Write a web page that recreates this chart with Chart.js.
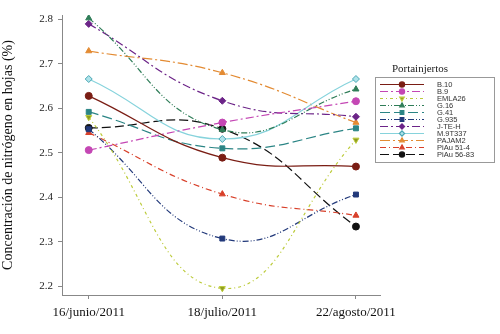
<!DOCTYPE html>
<html>
<head>
<meta charset="utf-8">
<script src="https://cdn.jsdelivr.net/npm/chart.js@4"></script>
<style>
  html, body { margin: 0; padding: 0; background: #fff; }
  #wrap { width: 500px; height: 334px; }
</style>
</head>
<body>
<div id="wrap"><canvas id="nChart" width="500" height="334"></canvas></div>
<script>
// fechas de muestreo
var dateLabels = ["16/junio/2011", "18/julio/2011", "22/agosto/2011"];
var yTicks = [2.2, 2.3, 2.4, 2.5, 2.6, 2.7, 2.8];

// nitrógeno foliar (%) por portainjerto
var rootstocks = ["B.10", "B.9", "EMLA26", "G.16", "G.41", "G.935", "J-TE-H", "M.9T337", "PAJAM2", "PiAu 51-4", "PiAu 56-83"];
var b10 = [2.628, 2.489, 2.469];
var b9 = [2.506, 2.568, 2.616];
var emla26 = [2.580, 2.195, 2.529];
var g16 = [2.803, 2.552, 2.643];
var g41 = [2.592, 2.510, 2.555];
var g935 = [2.553, 2.307, 2.406];
var jteh = [2.790, 2.617, 2.581];
var m9t337 = [2.666, 2.531, 2.666];
var pajam2 = [2.729, 2.680, 2.568];
var piau514 = [2.545, 2.407, 2.359];
var piau5683 = [2.556, 2.554, 2.334];

var seriesValues = [b10, b9, emla26, g16, g41, g935, jteh, m9t337, pajam2, piau514, piau5683];

var lineColors = ["#7a1d14", "#c447b4", "#bccb3a", "#2f7d58", "#2b8585", "#22397a", "#6c2488", "#86d3dc", "#e38b33", "#d8402a", "#111111"];
var markerFill = ["#7a1d14", "#c447b4", "#8f9c22", "#2f7d58", "#2b8585", "#22397a", "#6c2488", "#aee3ea", "#e38b33", "#d8402a", "#111111"];
var markers = ["circle", "circle", "triangle", "triangle", "rect", "rect", "rectRot", "rectRot", "triangle", "triangle", "circle"];
var dashes = [[], [8, 3, 2, 3], [3, 3, 1, 3], [6, 2, 1, 2, 1, 2], [10, 4], [6, 2, 1, 2, 1, 2], [8, 3, 2, 3], [], [10, 3, 2, 3], [6, 3, 1, 3], [9, 4]];

var datasets = [];
for (var i = 0; i < rootstocks.length; i++) {
    var pts = [];
    for (var j = 0; j < dateLabels.length; j++) {
        pts.push({ x: j, y: seriesValues[i][j] });
    }
    datasets.push({
        label: rootstocks[i],
        data: pts,
        borderColor: lineColors[i],
        borderWidth: 1.2,
        borderDash: dashes[i],
        tension: 0.45,
        pointStyle: markers[i],
        pointRotation: (rootstocks[i] == "EMLA26") ? 180 : 0,
        pointRadius: 3.5,
        pointBackgroundColor: markerFill[i],
        pointBorderColor: (rootstocks[i] == "M.9T337") ? "#4aa6b4" : lineColors[i],
        pointBorderWidth: 1
    });
}

// leyenda dibujada a mano (linea + marcador + texto)
var boxLegend = {
    id: "boxLegend",
    afterDraw: function (chart) {
        var ctx = chart.ctx;
        ctx.save();
        ctx.fillStyle = "#222";
        ctx.font = "11px 'Liberation Serif'";
        ctx.textAlign = "center";
        ctx.textBaseline = "middle";
        ctx.fillText("Portainjertos", 420, 69);

        ctx.strokeStyle = "#999";
        ctx.lineWidth = 1;
        ctx.setLineDash([]);
        ctx.strokeRect(375.5, 77.5, 119, 85);

        chart.data.datasets.forEach(function (ds, k) {
            var y = 84.5 + k * 7;
            ctx.strokeStyle = ds.borderColor;
            ctx.lineWidth = 1.2;
            ctx.setLineDash(ds.borderDash);
            ctx.beginPath();
            ctx.moveTo(380, y);
            ctx.lineTo(424, y);
            ctx.stroke();
            ctx.setLineDash([]);
            ctx.fillStyle = ds.pointBackgroundColor;
            ctx.strokeStyle = ds.pointBorderColor;
            Chart.helpers.drawPoint(ctx, { pointStyle: ds.pointStyle, rotation: ds.pointRotation, radius: 2.6, borderWidth: 1 }, 402, y);
            ctx.fillStyle = "#333";
            ctx.font = "7.5px 'Liberation Sans'";
            ctx.textAlign = "left";
            ctx.fillText(ds.label, 437, y + 0.5);
        });
        ctx.restore();
    }
};

var ctx = document.getElementById("nChart").getContext("2d");
var chart = new Chart(ctx, {
    type: "line",
    data: { datasets: datasets },
    options: {
        responsive: false,
        animation: false,
        layout: { padding: { top: 15, right: 120, left: 0, bottom: 0 } },
        plugins: {
            legend: { display: false },
            tooltip: { enabled: false }
        },
        scales: {
            x: {
                type: "linear",
                min: -0.2,
                max: 2.18,
                afterBuildTicks: function (scale) {
                    scale.ticks = dateLabels.map(function (d, idx) { return { value: idx }; });
                },
                afterFit: function (scale) { scale.height = 39; },
                ticks: {
                    color: "#111",
                    font: { family: "'Liberation Serif'", size: 13 },
                    maxRotation: 0,
                    padding: 6,
                    callback: function (v) { return dateLabels[v]; }
                },
                grid: { drawOnChartArea: false, drawTicks: true, tickLength: 4, color: "#888" },
                border: { color: "#888", width: 1 }
            },
            y: {
                min: 2.18,
                max: 2.81,
                afterBuildTicks: function (scale) {
                    scale.ticks = yTicks.map(function (v) { return { value: v }; });
                },
                afterFit: function (scale) { scale.width = 62; },
                ticks: {
                    color: "#222",
                    font: { family: "'Liberation Serif'", size: 11 },
                    padding: 5,
                    callback: function (v) { return Number(v).toFixed(1); }
                },
                grid: { drawOnChartArea: false, drawTicks: true, tickLength: 4, color: "#888" },
                border: { color: "#888", width: 1 },
                title: {
                    display: true,
                    text: "Concentración de nitrógeno en hojas (%)",
                    color: "#111",
                    font: { family: "'Liberation Serif'", size: 14 },
                    padding: { top: 0, bottom: 4 }
                }
            }
        }
    },
    plugins: [boxLegend]
});
</script>
</body>
</html>
